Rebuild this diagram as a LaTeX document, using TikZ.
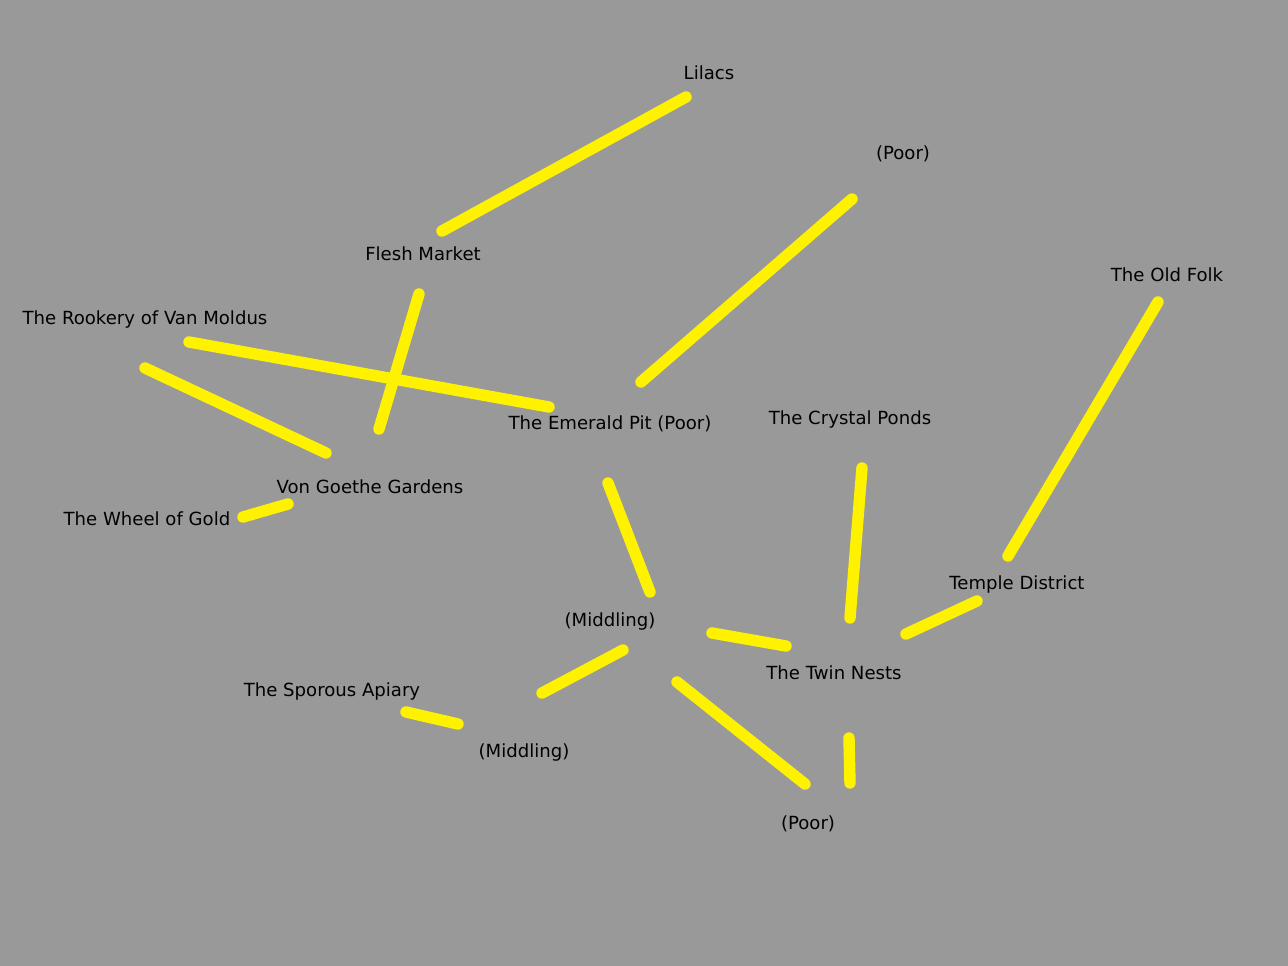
\documentclass[tikz,border=0pt]{standalone}
\usepackage{fontspec}
\setmainfont{DejaVu Sans}
\usepackage{tikz}
\definecolor{mapgray}{RGB}{153,153,153}
\tikzstyle{place} = [text=black, anchor=base, inner sep=0pt, font=\fontsize{10.3}{12}\selectfont]
\tikzstyle{road} = [draw, yellow, line width=6.5pt, line cap=round]

\begin{document}
\begin{tikzpicture}[x=0.02cm, y=-0.02cm]

\fill [mapgray] (0, 0) rectangle (1288, 966);
\useasboundingbox (0, 0) rectangle (1288, 966);

% places
\node [place] at (709, 80) (lilacs) {Lilacs};
\node [place] at (903, 160) (poorA) {(Poor)};
\node [place] at (423, 260) (flesh) {Flesh Market};
\node [place] at (1167, 281) (oldfolk) {The Old Folk};
\node [place] at (145, 324) (rookery) {The Rookery of Van Moldus};
\node [place] at (610, 429) (emerald) {The Emerald Pit (Poor)};
\node [place] at (850, 424) (crystal) {The Crystal Ponds};
\node [place] at (370, 493) (goethe) {Von Goethe Gardens};
\node [place] at (147, 525) (wheel) {The Wheel of Gold};
\node [place] at (1017, 589) (temple) {Temple District};
\node [place] at (610, 626) (midA) {(Middling)};
\node [place] at (834, 679) (twin) {The Twin Nests};
\node [place] at (332, 696) (apiary) {The Sporous Apiary};
\node [place] at (524, 757) (midB) {(Middling)};
\node [place] at (808, 829) (poorB) {(Poor)};

% roads, north
\path [road] ([xshift=-0.46cm, yshift=-0.34cm]lilacs.base) to ([xshift=0.38cm, yshift=0.58cm]flesh.base);
\path [road] ([xshift=-1.02cm, yshift=-0.78cm]poorA.base) to ([xshift=0.62cm, yshift=0.94cm]emerald.base);
\path [road] ([xshift=-0.08cm, yshift=-0.68cm]flesh.base) to ([xshift=0.18cm, yshift=1.28cm]goethe.base);
\path [road] ([xshift=0.88cm, yshift=-0.36cm]rookery.base) to ([xshift=-1.22cm, yshift=0.44cm]emerald.base);
\path [road] ([xshift=0cm, yshift=-0.88cm]rookery.base) to ([xshift=-0.88cm, yshift=0.80cm]goethe.base);
\path [road] ([xshift=-1.64cm, yshift=-0.22cm]goethe.base) to ([xshift=1.92cm, yshift=0.16cm]wheel.base);
\path [road] ([xshift=-0.04cm, yshift=-1.08cm]emerald.base) to ([xshift=0.80cm, yshift=0.68cm]midA.base);

% roads, east
\path [road] ([xshift=0.24cm, yshift=-0.88cm]crystal.base) to ([xshift=0.32cm, yshift=1.22cm]twin.base);
\path [road] ([xshift=-0.18cm, yshift=-0.42cm]oldfolk.base) to ([xshift=-0.18cm, yshift=0.66cm]temple.base);
\path [road] ([xshift=-0.80cm, yshift=-0.24cm]temple.base) to ([xshift=1.44cm, yshift=0.90cm]twin.base);

% roads, south
\path [road] ([xshift=2.04cm, yshift=-0.14cm]midA.base) to ([xshift=-0.96cm, yshift=0.66cm]twin.base);
\path [road] ([xshift=0.26cm, yshift=-0.48cm]midA.base) to ([xshift=0.36cm, yshift=1.28cm]midB.base);
\path [road] ([xshift=1.48cm, yshift=-0.32cm]apiary.base) to ([xshift=-1.32cm, yshift=0.66cm]midB.base);
\path [road] ([xshift=1.34cm, yshift=-1.12cm]midA.base) to ([xshift=-0.06cm, yshift=0.90cm]poorB.base);
\path [road] ([xshift=0.30cm, yshift=-1.18cm]twin.base) to ([xshift=0.84cm, yshift=0.92cm]poorB.base);

\end{tikzpicture}
\end{document}
